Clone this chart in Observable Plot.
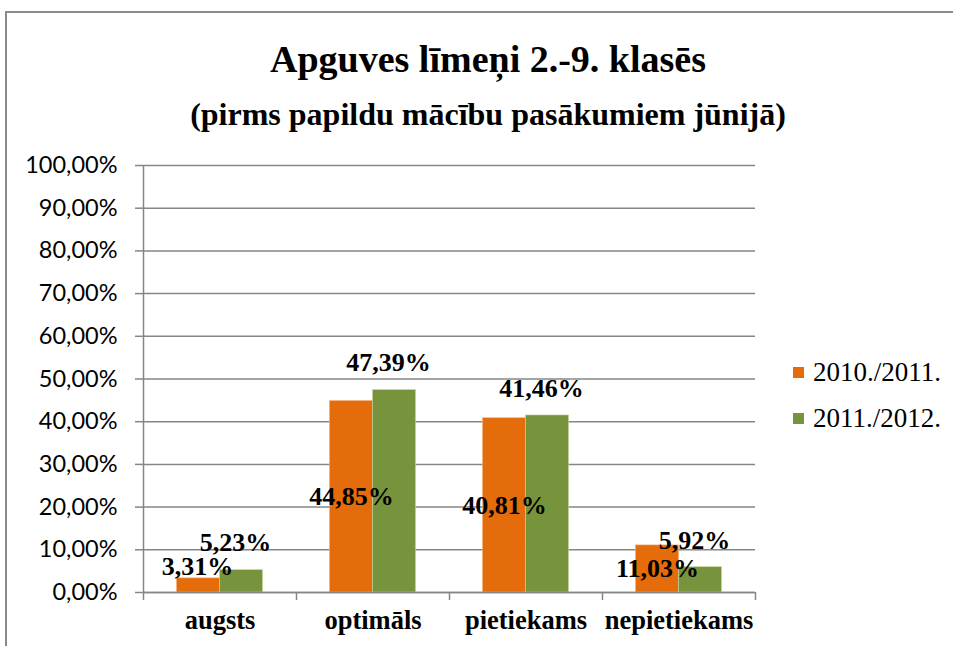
<!DOCTYPE html>
<html>
<head>
<meta charset="utf-8">
<script src="https://cdn.jsdelivr.net/npm/d3@7"></script>
<script src="https://cdn.jsdelivr.net/npm/@observablehq/plot@0.6"></script>
<style>
  html, body { margin: 0; padding: 0; background: #fff; }
  #wrap { position: relative; width: 953px; height: 646px; overflow: hidden; }
  #frame { position: absolute; left: 5px; top: 11px; width: 960px; height: 700px; border: 2px solid #8a8a8a; box-sizing: border-box; }
  .title { position: absolute; left: 5px; width: 966px; text-align: center; font-family: "Liberation Serif", serif; font-weight: bold; color: #000; white-space: nowrap; line-height: 1.15; }
  #t1 { top: 38px; font-size: 38px; }
  #t2 { top: 96px; font-size: 32px; }
  #legend { position: absolute; left: 793px; top: 349px; font-family: "Liberation Serif", serif; font-size: 27px; color: #000; }
  .li { display: flex; align-items: center; height: 46px; }
  .sw { width: 11px; height: 11px; margin-right: 9px; }
  #chart { position: absolute; left: 0; top: 0; }
</style>
</head>
<body>
<div id="wrap">
  <div id="frame"></div>
  <div class="title" id="t1">Apguves līmeņi 2.-9. klasēs</div>
  <div class="title" id="t2">(pirms papildu mācību pasākumiem jūnijā)</div>
  <div id="chart"></div>
  <div id="legend"></div>
</div>
<script>
const categories = ["augsts", "optimāls", "pietiekams", "nepietiekams"];
const series = ["2010./2011.", "2011./2012."];
const values2010 = [0.0331, 0.4485, 0.4081, 0.1103];
const values2011 = [0.0523, 0.4739, 0.4146, 0.0592];
const yTicks = [0, 0.1, 0.2, 0.3, 0.4, 0.5, 0.6, 0.7, 0.8, 0.9, 1.0];
const colors = ["#E46C0A", "#77933C"];

const fmt = v => (v * 100).toFixed(2).replace(".", ",") + "%";

const d2010 = categories.map((c, i) => ({category: c, value: values2010[i], series: series[0]}));
const d2011 = categories.map((c, i) => ({category: c, value: values2011[i], series: series[1]}));

const W = 953, H = 646;
const mL = 143, mR = 198, mT = 165, mB = 54;
const step = (W - mL - mR) / categories.length;
const barW = 43;
const outer = (step - 2 * barW) / 2;

const labelFont = {fontFamily: "Liberation Serif, serif", fontWeight: "bold", fontSize: 26, fill: "#000"};
const smallFit = d => d.value < 0.06;

const chart = Plot.plot({
  width: W,
  height: H,
  marginLeft: mL,
  marginRight: mR,
  marginTop: mT,
  marginBottom: mB,
  x: {type: "band", domain: categories, padding: 0},
  y: {domain: [0, 1]},
  style: {background: "transparent"},
  marks: [
    Plot.gridY(yTicks, {stroke: "#868686", strokeOpacity: 1, strokeWidth: 1.5}),
    Plot.axisY(yTicks, {
      tickFormat: fmt, tickSize: 8, tickPadding: 18, stroke: "#868686", strokeWidth: 1.5,
      fontFamily: "Lato, sans-serif", fontSize: 23.5, fill: "#000", label: null
    }),
    Plot.ruleX([0], {x: () => categories[0], dx: -step / 2, stroke: "#868686", strokeWidth: 1.5, y1: 0, y2: 1}),
    Plot.ruleX(categories, {x: d => d, dx: -step / 2, y1: 0, y2: 0, insetBottom: -8, stroke: "#868686", strokeWidth: 1.5}),
    Plot.ruleX([categories[categories.length - 1]], {x: d => d, dx: step / 2, y1: 0, y2: 0, insetBottom: -8, stroke: "#868686", strokeWidth: 1.5}),
    Plot.barY(d2010, {x: "category", y: "value", fill: colors[0], insetLeft: outer, insetRight: outer + barW, stroke: "#f4b183", strokeWidth: 0.6}),
    Plot.barY(d2011, {x: "category", y: "value", fill: colors[1], insetLeft: outer + barW, insetRight: outer, stroke: "#c3d69b", strokeWidth: 0.6}),
    Plot.axisX({
      tickSize: 0, tickPadding: 18, label: null,
      fontFamily: "Liberation Serif, serif", fontWeight: "bold", fontSize: 26.5, fill: "#000"
    }),
    Plot.ruleY([0], {stroke: "#868686", strokeWidth: 1.5}),
    Plot.text(d2010.filter(d => !smallFit(d)), {
      x: "category", y: d => d.value / 2, text: d => fmt(d.value),
      dx: -barW / 2, lineAnchor: "middle", ...labelFont
    }),
    Plot.text(d2010.filter(smallFit), {
      x: "category", y: "value", text: d => fmt(d.value),
      dx: -barW / 2 - 1, dy: -12, lineAnchor: "middle", ...labelFont
    }),
    Plot.text(d2011, {
      x: "category", y: "value", text: d => fmt(d.value),
      dx: barW / 2 - 6, dy: -27, lineAnchor: "middle", ...labelFont
    })
  ]
});
document.getElementById("chart").appendChild(chart);

const legend = document.getElementById("legend");
series.forEach((s, i) => {
  const row = document.createElement("div");
  row.className = "li";
  const sw = document.createElement("div");
  sw.className = "sw";
  sw.style.background = colors[i];
  const tx = document.createElement("span");
  tx.textContent = s;
  row.appendChild(sw);
  row.appendChild(tx);
  legend.appendChild(row);
});
</script>
</body>
</html>
